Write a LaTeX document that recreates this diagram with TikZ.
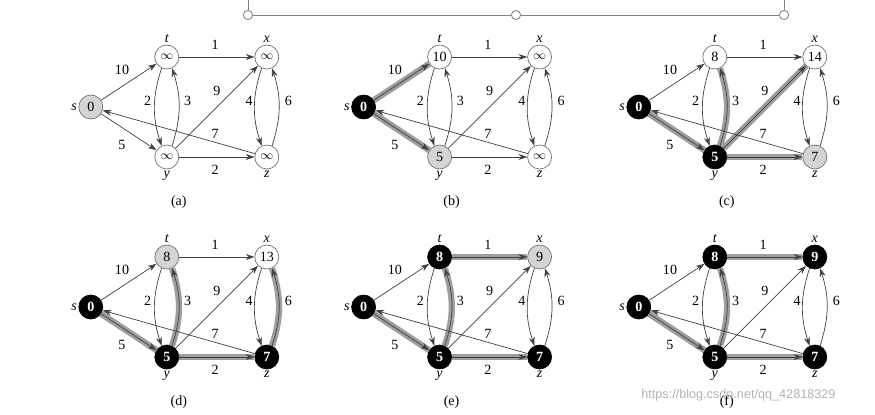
\documentclass[tikz,border=0pt]{standalone}
\usepackage{fontspec}
\setmainfont{Liberation Serif}
\setsansfont{Liberation Sans}
\usetikzlibrary{arrows.meta}

\tikzset{
  vtx/.style={circle, draw=black!55, line width=0.5pt, minimum size=6mm, inner sep=0pt},
  wht/.style={vtx, fill=white},
  gry/.style={vtx, fill=black!17},
  blk/.style={vtx, draw=black, fill=black, text=white, font=\bfseries},
  lbl/.style={font=\itshape, inner sep=1pt},
  edge/.style={draw=black!75, line width=0.5pt, -{Stealth[length=2.2mm,width=1.5mm]}},
  tree/.style={preaction={draw=black!38, line width=4.5pt, -}},
  wt/.style={inner sep=1pt},
  handle/.style={circle, draw=black!50, fill=white, line width=0.6pt, minimum size=2.3mm, inner sep=0pt},
  e-st/.style={}, e-sy/.style={}, e-tx/.style={}, e-ty/.style={}, e-yt/.style={},
  e-yx/.style={}, e-yz/.style={}, e-xz/.style={}, e-zx/.style={}, e-zs/.style={}
}

% edges and weights shared by all six stages
\newcommand{\dijkedges}{%
  \draw[edge, e-st] (s) -- (t);
  \draw[edge, e-sy] (s) -- (y);
  \draw[edge, e-tx] (t) -- (x);
  \draw[edge, e-ty] (t.245) to[bend right=18] (y.115);
  \draw[edge, e-yt] (y.65) to[bend right=18] (t.295);
  \draw[edge, e-yx] (y) -- (x);
  \draw[edge, e-yz] (y) -- (z);
  \draw[edge, e-xz] (x.245) to[bend right=18] (z.115);
  \draw[edge, e-zx] (z.65) to[bend right=18] (x.295);
  \draw[edge, e-zs] (z) -- (s);
  \node[wt] (w-st) at (0.78,0.94) {10};
  \node[wt] (w-sy) at (0.78,-0.95) {5};
  \node[wt] (w-tx) at (3.11,1.55) {1};
  \node[wt] (w-ty) at (1.42,0.15) {2};
  \node[wt] (w-yt) at (2.42,0.15) {3};
  \node[wt] (w-yx) at (3.15,0.4) {9};
  \node[wt] (w-yz) at (3.11,-1.56) {2};
  \node[wt] (w-xz) at (3.96,0.15) {4};
  \node[wt] (w-zx) at (4.94,0.15) {6};
  \node[wt] (w-zs) at (3.11,-0.675) {7};
}

\begin{document}
\begin{tikzpicture}
\useasboundingbox (0,0) rectangle (21.875,-10.35);

% frame handles at the top
\node[handle] (h1) at (6.2,-0.375) {};
\node[handle] (h2) at (12.9,-0.375) {};
\node[handle] (h3) at (19.6,-0.375) {};
\coordinate (h1top) at (6.2,0);
\coordinate (h3top) at (19.6,0);
\draw[black!50, line width=0.6pt] (h1) -- (h2) -- (h3);
\draw[black!50, line width=0.6pt] (h1top) -- (h1);
\draw[black!50, line width=0.6pt] (h3top) -- (h3);

% (a)
\begin{scope}[shift={(2.27,-2.675)}, name prefix=a-]
\node[gry, label={[lbl]left:s}] (s) at (0,0) {0};
\node[wht, label={[lbl]above:t}] (t) at (1.9,1.25) {\small$\infty$};
\node[wht, label={[lbl]above:x}] (x) at (4.4,1.25) {\small$\infty$};
\node[wht, label={[lbl]below:y}] (y) at (1.9,-1.25) {\small$\infty$};
\node[wht, label={[lbl]below:z}] (z) at (4.4,-1.25) {\small$\infty$};
\dijkedges
\node (cap) at (2.2,-2.37) {(a)};
\end{scope}

% (b)
\begin{scope}[shift={(9.09,-2.675)}, name prefix=b-, e-st/.style=tree, e-sy/.style=tree]
\node[blk, label={[lbl]left:s}] (s) at (0,0) {0};
\node[wht, label={[lbl]above:t}] (t) at (1.9,1.25) {10};
\node[wht, label={[lbl]above:x}] (x) at (4.4,1.25) {\small$\infty$};
\node[gry, label={[lbl]below:y}] (y) at (1.9,-1.25) {5};
\node[wht, label={[lbl]below:z}] (z) at (4.4,-1.25) {\small$\infty$};
\dijkedges
\node (cap) at (2.2,-2.37) {(b)};
\end{scope}

% (c)
\begin{scope}[shift={(15.97,-2.675)}, name prefix=c-, e-sy/.style=tree, e-yt/.style=tree, e-yx/.style=tree, e-yz/.style=tree]
\node[blk, label={[lbl]left:s}] (s) at (0,0) {0};
\node[wht, label={[lbl]above:t}] (t) at (1.9,1.25) {8};
\node[wht, label={[lbl]above:x}] (x) at (4.4,1.25) {14};
\node[blk, label={[lbl]below:y}] (y) at (1.9,-1.25) {5};
\node[gry, label={[lbl]below:z}] (z) at (4.4,-1.25) {7};
\dijkedges
\node (cap) at (2.2,-2.37) {(c)};
\end{scope}

% (d)
\begin{scope}[shift={(2.27,-7.675)}, name prefix=d-, e-sy/.style=tree, e-yt/.style=tree, e-yz/.style=tree, e-zx/.style=tree]
\node[blk, label={[lbl]left:s}] (s) at (0,0) {0};
\node[gry, label={[lbl]above:t}] (t) at (1.9,1.25) {8};
\node[wht, label={[lbl]above:x}] (x) at (4.4,1.25) {13};
\node[blk, label={[lbl]below:y}] (y) at (1.9,-1.25) {5};
\node[blk, label={[lbl]below:z}] (z) at (4.4,-1.25) {7};
\dijkedges
\node (cap) at (2.2,-2.37) {(d)};
\end{scope}

% (e)
\begin{scope}[shift={(9.09,-7.675)}, name prefix=e-, e-sy/.style=tree, e-yt/.style=tree, e-tx/.style=tree, e-yz/.style=tree]
\node[blk, label={[lbl]left:s}] (s) at (0,0) {0};
\node[blk, label={[lbl]above:t}] (t) at (1.9,1.25) {8};
\node[gry, label={[lbl]above:x}] (x) at (4.4,1.25) {9};
\node[blk, label={[lbl]below:y}] (y) at (1.9,-1.25) {5};
\node[blk, label={[lbl]below:z}] (z) at (4.4,-1.25) {7};
\dijkedges
\node (cap) at (2.2,-2.37) {(e)};
\end{scope}

% (f)
\begin{scope}[shift={(15.97,-7.675)}, name prefix=f-, e-sy/.style=tree, e-yt/.style=tree, e-tx/.style=tree, e-yz/.style=tree]
\node[blk, label={[lbl]left:s}] (s) at (0,0) {0};
\node[blk, label={[lbl]above:t}] (t) at (1.9,1.25) {8};
\node[blk, label={[lbl]above:x}] (x) at (4.4,1.25) {9};
\node[blk, label={[lbl]below:y}] (y) at (1.9,-1.25) {5};
\node[blk, label={[lbl]below:z}] (z) at (4.4,-1.25) {7};
\dijkedges
\node (cap) at (2.2,-2.37) {(f)};
\end{scope}

\node[text=black!30, font=\sffamily\fontsize{9}{11}\selectfont] (wm) at (18.46,-9.88) {https://blog.csdn.net/qq\_42818329};
\end{tikzpicture}
\end{document}
